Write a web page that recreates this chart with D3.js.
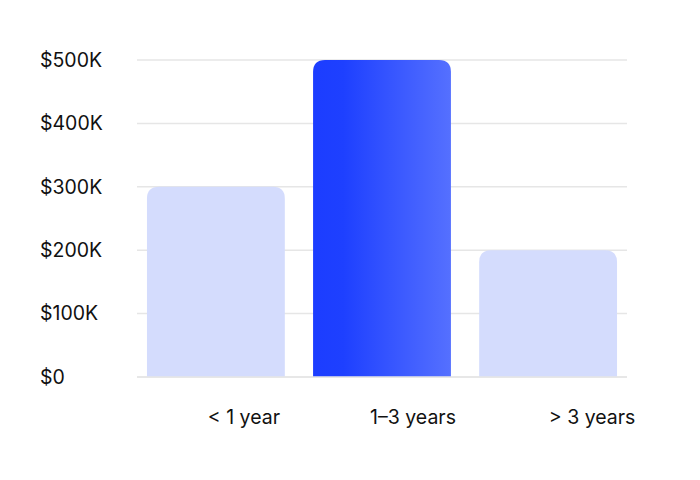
<!DOCTYPE html>
<html>
<head>
<meta charset="utf-8">
<script src="https://cdn.jsdelivr.net/npm/d3@7.9.0/dist/d3.min.js"></script>
<style>
  body { margin: 0; background: #fff; }
  svg text { font-family: Inter, "Noto Sans", sans-serif; fill: #111; }
</style>
</head>
<body>
<svg id="chart" width="700" height="480"></svg>
<script>
// ---------- DATA ----------
const categories = ["< 1 year", "1–3 years", "> 3 years"];
const values = [300000, 500000, 200000];
const highlight = [false, true, false];
const tickValues = [0, 100000, 200000, 300000, 400000, 500000];

// ---------- LAYOUT ----------
const width = 700;
const height = 480;
const plotLeft = 137, plotRight = 627;
const plotTop = 60, plotBottom = 377;
const labelShift = [28, 31, 44];
const fontSize = 19.5;

const svg = d3.select("#chart");

const x = d3.scaleBand()
    .domain(categories)
    .range([plotLeft, plotRight])
    .paddingInner(0.17)
    .paddingOuter(0.06);

const y = d3.scaleLinear()
    .domain([0, 500000])
    .range([plotBottom, plotTop]);

// GRADIENT FOR HIGHLIGHTED BAR
const defs = svg.append("defs");
const grad = defs.append("linearGradient")
    .attr("id", "barGrad")
    .attr("x1", "0%").attr("x2", "100%")
    .attr("y1", "0%").attr("y2", "0%");
grad.append("stop").attr("offset", "0%").attr("stop-color", "#1c3dff");
grad.append("stop").attr("offset", "22%").attr("stop-color", "#1e40ff");
grad.append("stop").attr("offset", "100%").attr("stop-color", "#5570ff");

// GRID LINES
svg.append("g")
    .selectAll("line")
    .data(tickValues)
    .join("line")
    .attr("x1", plotLeft)
    .attr("x2", plotRight)
    .attr("y1", d => y(d))
    .attr("y2", d => y(d))
    .attr("stroke", "#e6e6e6")
    .attr("stroke-width", 1.5);

// Y TICK LABELS
svg.append("g")
    .selectAll("text")
    .data(tickValues)
    .join("text")
    .attr("x", 40)
    .attr("y", d => y(d))
    .attr("dy", "0.35em")
    .attr("font-size", fontSize)
    .text(d => d === 0 ? "$0" : `$${d / 1000}K`);

// BARS WITH ROUNDED TOP CORNERS
const r = 12;
function barPath(x0, y0, w, h) {
    return `M${x0},${y0 + h}V${y0 + r}Q${x0},${y0} ${x0 + r},${y0}` +
        `H${x0 + w - r}Q${x0 + w},${y0} ${x0 + w},${y0 + r}V${y0 + h}Z`;
}

svg.append("g")
    .selectAll("path")
    .data(categories)
    .join("path")
    .attr("d", (c, i) => barPath(x(c), y(values[i]), x.bandwidth(), y(0) - y(values[i])))
    .attr("fill", (c, i) => highlight[i] ? "url(#barGrad)" : "#d4dcfd");

// BASELINE
svg.append("line")
    .attr("x1", plotLeft)
    .attr("x2", plotRight)
    .attr("y1", y(0))
    .attr("y2", y(0))
    .attr("stroke", "#e6e6e6")
    .attr("stroke-width", 1.5);

// X LABELS
svg.append("g")
    .selectAll("text")
    .data(categories)
    .join("text")
    .attr("x", (c, i) => x(c) + x.bandwidth() / 2 + labelShift[i])
    .attr("y", 417)
    .attr("dy", "0.35em")
    .attr("text-anchor", "middle")
    .attr("font-size", fontSize)
    .text(c => c);
</script>
</body>
</html>
